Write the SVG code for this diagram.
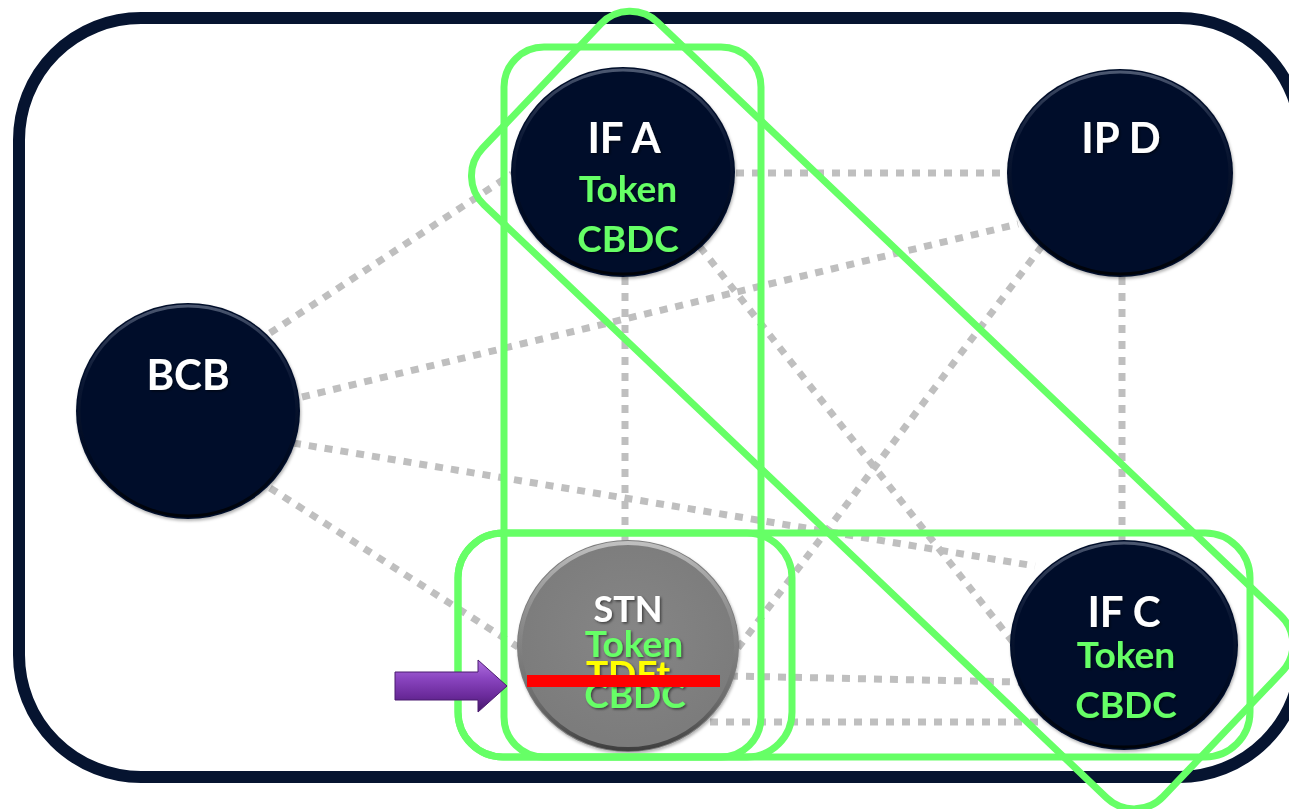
<svg xmlns="http://www.w3.org/2000/svg" width="1289" height="809" viewBox="0 0 1289 809">
  <defs>
    <linearGradient id="rimDark" x1="0" y1="0" x2="0" y2="1">
      <stop offset="0" stop-color="#7f8aa0" stop-opacity="0.6"/>
      <stop offset="0.35" stop-color="#3a4560" stop-opacity="0.2"/>
      <stop offset="0.7" stop-color="#000000" stop-opacity="0.2"/>
      <stop offset="1" stop-color="#000000" stop-opacity="0.8"/>
    </linearGradient>
    <linearGradient id="rimGray" x1="0" y1="0" x2="0" y2="1">
      <stop offset="0" stop-color="#d0d0d0" stop-opacity="0.8"/>
      <stop offset="0.4" stop-color="#b0b0b0" stop-opacity="0.25"/>
      <stop offset="0.75" stop-color="#404040" stop-opacity="0.25"/>
      <stop offset="1" stop-color="#303030" stop-opacity="0.8"/>
    </linearGradient>
    <radialGradient id="grayFill" cx="0.5" cy="0.45" r="0.6">
      <stop offset="0" stop-color="#868686"/>
      <stop offset="1" stop-color="#7a7a7a"/>
    </radialGradient>
    <linearGradient id="purple" x1="0" y1="0" x2="0" y2="1">
      <stop offset="0" stop-color="#b070e0"/>
      <stop offset="0.35" stop-color="#8a45c0"/>
      <stop offset="0.7" stop-color="#6a2a9a"/>
      <stop offset="1" stop-color="#45186a"/>
    </linearGradient>
    <filter id="txtShadow" x="-20%" y="-20%" width="140%" height="140%">
      <feDropShadow dx="1.5" dy="1.5" stdDeviation="0.8" flood-color="#000000" flood-opacity="0.5"/>
    </filter>
    <filter id="nodeShadow" x="-10%" y="-10%" width="120%" height="120%">
      <feDropShadow dx="1" dy="2" stdDeviation="1.5" flood-color="#000000" flood-opacity="0.3"/>
    </filter>
  </defs>
  <style>
    .frame { fill: none; stroke: #061430; stroke-width: 12; }
    .conn { fill: none; stroke: #bfbfbf; stroke-width: 7; stroke-dasharray: 8 8; }
    .dark { fill: #04102a; filter: url(#nodeShadow); }
    .gray { fill: url(#grayFill); filter: url(#nodeShadow); }
    .rimD { fill: none; stroke: url(#rimDark); stroke-width: 3; }
    .rimG { fill: none; stroke: url(#rimGray); stroke-width: 4; }
    .grp { fill: none; stroke: #66ff66; stroke-width: 7; }
    .t { font-family: Lato, "Liberation Sans", Arial, sans-serif; font-weight: bold; text-anchor: middle; filter: url(#txtShadow); }
    .w { fill: #ffffff; font-size: 42px; }
    .ws { fill: #ffffff; font-size: 36px; }
    .g { fill: #66ff66; font-size: 37px; }
    .y { fill: #ffff00; font-size: 37px; }
  </style>
  <rect x="0" y="0" width="1289" height="809" fill="#ffffff"/>
  <rect class="frame" x="19" y="18" width="1282" height="759" rx="122" ry="122"/>

  <g id="connectors">
    <line class="conn" x1="736" y1="173" x2="1008" y2="173"/>
    <line class="conn" x1="270" y1="333" x2="512" y2="174"/>
    <line class="conn" x1="302" y1="397" x2="1018" y2="224"/>
    <line class="conn" x1="293" y1="443" x2="1035" y2="566"/>
    <line class="conn" x1="270" y1="488" x2="518" y2="647"/>
    <line class="conn" x1="625" y1="277" x2="625" y2="541"/>
    <line class="conn" x1="1122" y1="277" x2="1122" y2="541"/>
    <line class="conn" x1="700" y1="247" x2="1016" y2="646"/>
    <line class="conn" x1="1042" y1="246" x2="738" y2="648"/>
    <line class="conn" x1="730" y1="676" x2="1020" y2="682"/>
    <line class="conn" x1="710" y1="722" x2="1045" y2="722"/>
  </g>

  <g id="node-ifa">
    <ellipse class="dark" cx="623" cy="172" rx="112" ry="105"/>
    <ellipse class="rimD" cx="623" cy="172" rx="109" ry="102"/>
    <text class="t w" x="624" y="153">IF A</text>
    <text class="t g" x="628" y="202">Token</text>
    <text class="t g" x="628" y="252">CBDC</text>
  </g>
  <g id="node-ipd">
    <ellipse class="dark" cx="1120" cy="173" rx="113" ry="104"/>
    <ellipse class="rimD" cx="1120" cy="173" rx="110" ry="101"/>
    <text class="t w" x="1121" y="153">IP D</text>
  </g>
  <g id="node-bcb">
    <ellipse class="dark" cx="188" cy="411" rx="112" ry="108"/>
    <ellipse class="rimD" cx="188" cy="411" rx="109" ry="105"/>
    <text class="t w" x="188" y="390">BCB</text>
  </g>
  <g id="node-ifc">
    <ellipse class="dark" cx="1124" cy="645" rx="114" ry="105"/>
    <ellipse class="rimD" cx="1124" cy="645" rx="111" ry="102"/>
    <text class="t w" x="1124" y="627">IF C</text>
    <text class="t g" x="1126" y="668">Token</text>
    <text class="t g" x="1126" y="718">CBDC</text>
  </g>
  <g id="node-stn">
    <ellipse class="gray" cx="628" cy="646" rx="111" ry="106"/>
    <ellipse class="rimG" cx="628" cy="646" rx="108" ry="103"/>
    <text class="t ws" x="628" y="622">STN</text>
    <text class="t g" x="634" y="657">Token</text>
    <text class="t g" x="635" y="708">CBDC</text>
    <text class="t y" x="628" y="687">TDFt</text>
    <rect x="527" y="675" width="193" height="12" fill="#ff0000"/>
  </g>

  <g id="groups">
    <rect class="grp" x="504" y="47" width="257" height="710" rx="40" ry="40"/>
    <rect class="grp" x="458" y="533" width="334" height="224" rx="45" ry="45"/>
    <rect class="grp" x="458" y="533" width="792" height="224" rx="45" ry="45"/>
    <rect class="grp" x="-467" y="-126" width="940" height="252" rx="40" ry="40" transform="translate(880 408) rotate(43.6)"/>
  </g>

  <g id="arrow">
    <polygon points="395,672 478,672 478,660 507,686 478,712 478,700 395,700" fill="url(#purple)" stroke="#4b1a70" stroke-width="1"/>
  </g>
</svg>
